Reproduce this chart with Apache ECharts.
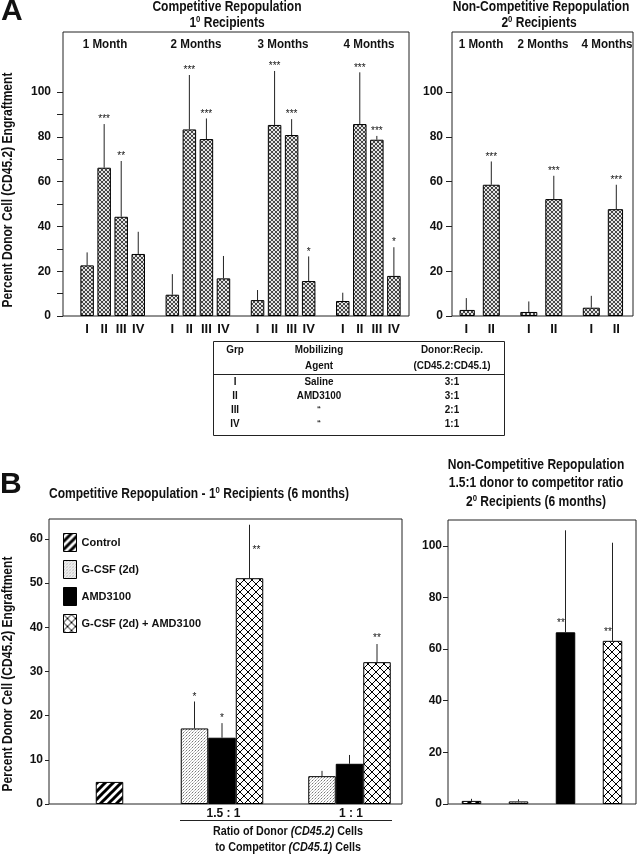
<!DOCTYPE html>
<html><head><meta charset="utf-8">
<script src="https://cdn.jsdelivr.net/npm/echarts@6/dist/echarts.min.js"></script>
<style>html,body{margin:0;padding:0;background:#fff}#c{width:637px;height:854px}</style>
</head><body><div id="c"></div>
<script>
// ---------- DATA ----------
// Panel A, competitive repopulation (1° recipients)
const aGroupLabels = ['I','II','III','IV'];
const aMonths = ['1 Month','2 Months','3 Months','4 Months'];
const aMean = [[22.6,66.2,44.3,27.7],[9.5,83.3,79.0,16.8],[7.1,85.3,80.8,15.6],[6.7,85.7,78.7,17.9]];
const aErr  = [[28.4,85.7,69.2,37.6],[18.7,107.6,88.2,26.8],[11.6,109.4,87.9,26.6],[10.4,108.8,80.4,30.7]];
const aSig  = [['','***','**',''],['','***','***',''],['','***','***','*'],['','***','***','*']];
// Panel A, non-competitive repopulation (2° recipients)
const a2GroupLabels = ['I','II'];
const a2Months = ['1 Month','2 Months','4 Months'];
const a2Mean = [[2.7,58.6],[1.8,52.2],[3.7,47.7]];
const a2Err  = [[8.0,69.0],[6.5,62.6],[9.0,58.6]];
const a2Sig  = [['','***'],['','***'],['','***']];
const aYLabels = [0,20,40,60,80,100];
const aYTicksLeft = [0,10,20,30,40,50,60,70,80,90,100];
// Mobilizing table
const tableHead = [['Grp',''],['Mobilizing','Agent'],['Donor:Recip.','(CD45.2:CD45.1)']];
const tableRows = [['I','Saline','3:1'],['II','AMD3100','3:1'],['III','\u201C','2:1'],['IV','\u201C','1:1']];
// Panel B, competitive (6 months)
const bNames = ['Control','G-CSF (2d)','AMD3100','G-CSF (2d) + AMD3100'];
const bRatios = ['1.5 : 1','1 : 1'];
const bControl = 5.0;
const bGcsf = [17.1, 6.3],  bGcsfErr = [23.2, 7.5],  bGcsfSig = ['*',''];
const bAmd = [15.0, 9.1],   bAmdErr = [18.3, 11.1],  bAmdSig = ['*',''];
const bCombo = [51.1, 32.1], bComboErr = [63.2, 36.2], bComboSig = ['**','**'];
const bYLabels = [0,10,20,30,40,50,60];
// Panel B, non-competitive (2° recipients, 6 months)
const b2Mean = [1.2, 1.0, 66.5, 63.2];
const b2Err = [2.0, 1.8, 106.0, 101.2];
const b2Sig = ['','','**','**'];
const b2YLabels = [0,20,40,60,80,100];

// ---------- STYLE ----------
const F = "'Liberation Sans',Arial,sans-serif";
const INK = '#111';
const NARROW = 0.86;
function pat(w,h,draw){const c=document.createElement('canvas');c.width=w;c.height=h;const g=c.getContext('2d');draw(g,w,h);return {image:c,repeat:'repeat'};}
const patA = pat(4,4,g=>{g.fillStyle='#e4e4e4';g.fillRect(0,0,4,4);g.fillStyle='#474747';
  [[0,0],[1,1],[2,2],[3,3],[3,0],[2,1],[1,2],[0,3]].forEach(([x,y])=>g.fillRect(x,y,1,1));});
const patStripe = pat(8,8,g=>{g.fillStyle='#fff';g.fillRect(0,0,8,8);g.strokeStyle='#000';g.lineWidth=3;
  g.beginPath();g.moveTo(-2,10);g.lineTo(10,-2);g.moveTo(-6,6);g.lineTo(6,-6);g.moveTo(2,14);g.lineTo(14,2);g.stroke();});
const patDots = pat(3,3,g=>{g.fillStyle='#fff';g.fillRect(0,0,3,3);g.fillStyle='#777';g.fillRect(0,0,1,1);g.fillStyle='#bbb';g.fillRect(1,2,1,1);g.fillRect(2,1,1,1);});
const patCross = pat(8,8,g=>{g.fillStyle='#fff';g.fillRect(0,0,8,8);g.fillStyle='#000';
  for(let i=0;i<8;i++){g.fillRect(i,i,1,1);g.fillRect(7-i,i,1,1);}});
const bFills = [patStripe, patDots, '#000', patCross];

function errSeries(xi, yi, pts, dx, starFn){
  return {type:'custom', xAxisIndex:xi, yAxisIndex:yi, z:10, silent:true, clip:false,
    data: pts.map(p=>[p[0],p[1],p[2]]),
    renderItem(params, api){
      const p = pts[params.dataIndex];
      const b = api.coord([api.value(0), api.value(1)]);
      const t = api.coord([api.value(0), api.value(2)]);
      b[0]+=dx; t[0]+=dx;
      const ch = [{type:'line', shape:{x1:b[0],y1:b[1],x2:t[0],y2:t[1]}, style:{stroke:'#222',lineWidth:1}}];
      if (p[3]) {
        const s = starFn ? starFn(p, b, t) : [t[0], t[1]-4.5];
        ch.push({type:'text', x:s[0], y:s[1], style:{text:p[3], fontFamily:F, fontSize:10, fill:INK, textAlign:'center', textVerticalAlign:'middle'}});
      }
      return {type:'group', children:ch};
    }};
}

// ---------- BUILD ----------
const aCats = [], aBar = [], aPts = [];
aMonths.forEach((m,g)=>{
  if (g>0) { aCats.push(''); aBar.push('-'); }
  aGroupLabels.forEach((l,k)=>{ aCats.push(l); aBar.push(aMean[g][k]); aPts.push([aCats.length-1, aMean[g][k], aErr[g][k], aSig[g][k]]); });
});
const a2Cats = [], a2Bar = [], a2Pts = [];
a2Months.forEach((m,g)=>{
  const slots = g<a2Months.length-1 ? 5 : 3;
  for (let s=0;s<slots;s++){
    const k = s===0?0:(s===2?1:-1);
    if (k>=0){ a2Cats.push(a2GroupLabels[k]); a2Bar.push(a2Mean[g][k]); a2Pts.push([a2Cats.length-1, a2Mean[g][k], a2Err[g][k], a2Sig[g][k]]); }
    else { a2Cats.push(''); a2Bar.push('-'); }
  }
});
const bCats = ['', '', bRatios[0], '', '', bRatios[1]];
const ri = [2,5];
const arr = () => bCats.map(()=> '-');
const sControl = arr(); sControl[0] = bControl;
const sG = arr(), sA = arr(), sC = arr();
ri.forEach((c,i)=>{ sG[c]=bGcsf[i]; sA[c]=bAmd[i]; sC[c]=bCombo[i]; });
const bPtsG = ri.map((c,i)=>[c,bGcsf[i],bGcsfErr[i],bGcsfSig[i]]);
const bPtsA = ri.map((c,i)=>[c,bAmd[i],bAmdErr[i],bAmdSig[i]]);
const bPtsC = ri.map((c,i)=>[c,bCombo[i],bComboErr[i],bComboSig[i]]);
const b2Pts = b2Mean.map((v,i)=>[i, v, b2Err[i], b2Sig[i]]);

const barStyle = fill => ({color:fill, borderColor:'#000', borderWidth:1});
const bw = 27.5;

function yBox(gi,max,labels,ticks,len,margin){return {type:'value',gridIndex:gi,min:0,max,splitLine:{show:false},axisLine:{show:false},
  axisTick:{show:true,length:len,customValues:ticks,lineStyle:{color:'#222'}},
  axisLabel:{customValues:labels,margin,fontFamily:F,fontSize:12,fontWeight:'bold',color:INK}};}
function yHid(gi,max){return {type:'value',gridIndex:gi,min:0,max,show:false};}
function xHid(gi){return {type:'value',gridIndex:gi,min:0,max:1,show:false};}
function xCat(gi,data,extra){return Object.assign({type:'category',gridIndex:gi,data,axisLine:{show:false},axisTick:{show:false},
  axisLabel:Object.assign({interval:0,fontFamily:F,fontSize:13,fontWeight:'bold',color:INK,margin:7},extra||{})});}

const boxStyle = {show:true,borderColor:'#222',borderWidth:1,backgroundColor:'transparent'};
const AMAX = 126.8, BMAX = 64.5, B2MAX = 110;

function txt(x,y,text,size,o){o=o||{};const e={type:'text',x,y,silent:true,scaleX:o.scale||NARROW,
  style:{text,fontFamily:F,fontSize:size,fontWeight:o.weight||'bold',fill:INK,textAlign:o.align||'center',textVerticalAlign:'middle'}};
  if(o.rich) e.style.rich=o.rich; if(o.rotation!=null) e.rotation=o.rotation; return e;}
function supRich(size){return {b:{fontFamily:F,fontSize:size,fontWeight:'bold',fill:INK,lineHeight:size+2},
  s:{fontFamily:F,fontSize:Math.round(size*0.62),fontWeight:'bold',fill:INK,verticalAlign:'top',lineHeight:size+2},
  i:{fontFamily:F,fontSize:size,fontWeight:'bold',fontStyle:'italic',fill:INK,lineHeight:size+2}};}

const gfx = [
  txt(1,12,'A',30,{align:'left',scale:1}),
  txt(0,485,'B',30,{align:'left',scale:1}),
  txt(227,7,'Competitive Repopulation',14),
  txt(227,23,'{b|1}{s|0}{b| Recipients}',14,{rich:supRich(14)}),
  txt(541,7,'Non-Competitive Repopulation',14),
  txt(539,23,'{b|2}{s|0}{b| Recipients}',14,{rich:supRich(14)}),
  txt(8,190,'Percent Donor Cell (CD45.2) Engraftment',14,{rotation:Math.PI/2}),
  txt(8,674,'Percent Donor Cell (CD45.2) Engraftment',14,{rotation:Math.PI/2}),
  txt(199,494,'{b|Competitive Repopulation - 1}{s|0}{b| Recipients (6 months)}',14,{rich:supRich(14)}),
  txt(536,465,'Non-Competitive Repopulation',14),
  txt(536,483,'1.5:1 donor to competitor ratio',14),
  txt(536,502,'{b|2}{s|0}{b| Recipients (6 months)}',14,{rich:supRich(14)}),
  {type:'line',silent:true,shape:{x1:180,y1:820.5,x2:392,y2:820.5},style:{stroke:'#222',lineWidth:1}},
  txt(288,832,'{b|Ratio of Donor }{i|(CD45.2)}{b| Cells}',12.5,{rich:supRich(12.5)}),
  txt(288,848,'{b|to Competitor }{i|(CD45.1)}{b| Cells}',12.5,{rich:supRich(12.5)}),
  {type:'rect',silent:true,shape:{x:213.5,y:341.5,width:291,height:94},style:{fill:'none',stroke:'#222',lineWidth:1}},
  {type:'line',silent:true,shape:{x1:213.5,y1:374.5,x2:504.5,y2:374.5},style:{stroke:'#222',lineWidth:1}}
];
const aHeadX = [105,196,283,369], a2HeadX = [481,543,607];
aMonths.forEach((m,i)=>gfx.push(txt(aHeadX[i],44,m,13.5)));
a2Months.forEach((m,i)=>gfx.push(txt(a2HeadX[i],44,m,13.5)));
const colX = [235,319,452];
tableHead.forEach((h,c)=>{ gfx.push(txt(colX[c],350,h[0],11.5)); if(h[1]) gfx.push(txt(colX[c],366,h[1],11.5)); });
tableRows.forEach((r,ri2)=>r.forEach((v,c)=>gfx.push(txt(colX[c],382+ri2*14,v,v==='\u201C'?9:11.5))));

const option = {
  animation:false,
  grid:[
    Object.assign({left:63,top:32,width:346,height:284},boxStyle),
    {left:78.6,top:32,width:323.8,height:284},
    Object.assign({left:452,top:32,width:181,height:284},boxStyle),
    {left:460.05,top:32,width:162.5,height:284},
    Object.assign({left:49,top:519,width:353,height:285},boxStyle),
    {left:115.75,top:519,width:255,height:285},
    Object.assign({left:448,top:520,width:188,height:284},boxStyle)
  ],
  xAxis:[
    xHid(0), xCat(1,aCats), xHid(2), xCat(3,a2Cats), xHid(4),
    xCat(5,bCats,{fontSize:12,margin:4,padding:[0,0,0,3]}),
    xCat(6,bNames,{show:false})
  ],
  yAxis:[
    yBox(0,AMAX,aYLabels,aYTicksLeft,6,12), yHid(1,AMAX),
    yBox(2,AMAX,aYLabels,aYLabels,6,9), yHid(3,AMAX),
    yBox(4,BMAX,bYLabels,bYLabels,4,6), yHid(5,BMAX),
    yBox(6,B2MAX,b2YLabels,b2YLabels,5,6)
  ],
  legend:{data:bNames,orient:'vertical',left:63,top:533,padding:0,itemWidth:13,itemHeight:18,itemGap:8,icon:'rect',selectedMode:false,
    itemStyle:{borderColor:'#000',borderWidth:1},
    textStyle:{fontFamily:F,fontSize:11,fontWeight:'bold',color:INK}},
  series:[
    {type:'bar',name:'A1',xAxisIndex:1,yAxisIndex:1,data:aBar,barWidth:13.5,itemStyle:barStyle(patA)},
    errSeries(1,1,aPts,0),
    {type:'bar',name:'A2',xAxisIndex:3,yAxisIndex:3,data:a2Bar,barWidth:17,itemStyle:barStyle(patA)},
    errSeries(3,3,a2Pts,0),
    {type:'bar',name:bNames[0],xAxisIndex:5,yAxisIndex:5,data:sControl,stack:'s',clip:false,barWidth:bw,barGap:'0%',itemStyle:barStyle(bFills[0])},
    {type:'bar',name:bNames[1],xAxisIndex:5,yAxisIndex:5,data:sG,stack:'s',clip:false,barWidth:bw,barGap:'0%',itemStyle:barStyle(bFills[1])},
    {type:'bar',name:bNames[2],xAxisIndex:5,yAxisIndex:5,data:sA,clip:false,barWidth:bw,barGap:'0%',itemStyle:barStyle(bFills[2])},
    {type:'bar',name:bNames[3],xAxisIndex:5,yAxisIndex:5,data:sC,clip:false,barWidth:bw,barGap:'0%',itemStyle:barStyle(bFills[3])},
    errSeries(5,5,bPtsG,-bw),
    errSeries(5,5,bPtsA,0),
    errSeries(5,5,bPtsC,bw,(p,b,t)=> p[2]>0.9*BMAX ? [b[0]+7, b[1]-28] : [t[0], t[1]-5.5]),
    {type:'bar',name:'B2',xAxisIndex:6,yAxisIndex:6,barWidth:19.5,
      data:b2Mean.map((v,i)=>({value:v,itemStyle:barStyle(bFills[i])}))},
    errSeries(6,6,b2Pts,0,(p,b,t)=> p[2]>0.9*B2MAX ? [b[0]-4.5, b[1]-9] : [t[0], t[1]-5])
  ],
  graphic:{elements:gfx}
};
const chart = echarts.init(document.getElementById('c'),null,{renderer:'canvas'});
chart.setOption(option);
</script></body></html>
